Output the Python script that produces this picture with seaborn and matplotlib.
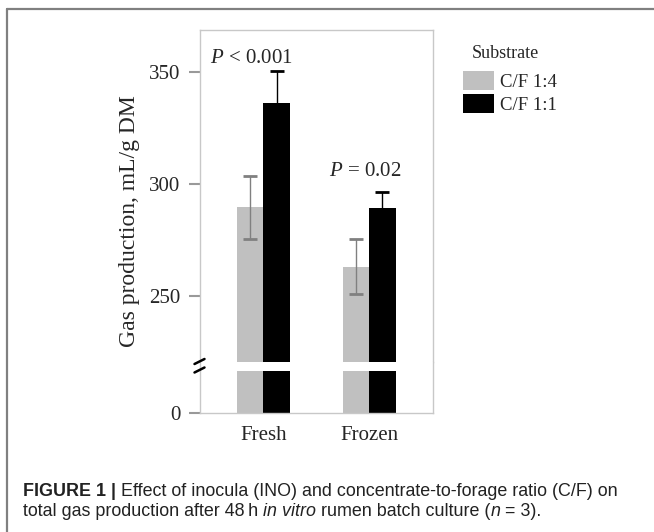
import matplotlib
matplotlib.use('Agg')
import matplotlib.pyplot as plt
import seaborn as sns
import pandas as pd
from matplotlib.patches import Rectangle
from matplotlib.lines import Line2D

# values
inocula = ['Fresh', 'Frozen']
substrates = ['C/F 1:4', 'C/F 1:1']
gas_cf14 = [289.4, 263.0]
gas_cf11 = [336.2, 289.3]
err_cf14 = [14.2, 12.3]
err_cf11 = [14.0, 7.0]
p_values = ['< 0.001', '= 0.02']
upper_ticks = [250, 300, 350]
lower_ticks = [0]

df = pd.DataFrame({
    'Inoculum': inocula * 2,
    'Substrate': [substrates[0]] * 2 + [substrates[1]] * 2,
    'Gas': gas_cf14 + gas_cf11,
    'Err': err_cf14 + err_cf11,
})

sns.set_style('white')
plt.rcParams['font.family'] = ['Liberation Serif', 'DejaVu Serif']
plt.rcParams['mathtext.fontset'] = 'custom'
plt.rcParams['mathtext.it'] = 'Liberation Serif:italic'
plt.rcParams['mathtext.rm'] = 'Liberation Serif'

W, H = 654, 532
fig = plt.figure(figsize=(W / 100, H / 100), dpi=100)


def fx(px):
    return px / W


def fy(py):
    return 1 - py / H


left, right = 200, 432.7
ax_top = fig.add_axes([fx(left), fy(361.7), fx(right) - fx(left), fy(30) - fy(361.7)])
ax_bot = fig.add_axes([fx(left), fy(413), fx(right) - fx(left), fy(361.7) - fy(413)])

palette = {'C/F 1:4': '#c0c0c0', 'C/F 1:1': '#000000'}
err_colors = {'C/F 1:4': '#808080', 'C/F 1:1': '#000000'}

for ax in (ax_top, ax_bot):
    sns.barplot(data=df, x='Inoculum', y='Gas', hue='Substrate', hue_order=substrates,
                order=inocula, palette=palette, width=0.5, errorbar=None,
                linewidth=0, ax=ax, legend=(ax is ax_top))
    ax.set_xlim(-0.6, 1.6)
    ax.set_xlabel('')
    ax.set_ylabel('')
    for s in ax.spines.values():
        s.set_color('#c8c8c8')
        s.set_linewidth(1)

# error bars on the upper panel
for cont, sub in zip(ax_top.containers, substrates):
    xs = [b.get_x() + b.get_width() / 2 for b in cont]
    sub_df = df[df['Substrate'] == sub]
    ax_top.errorbar(xs, sub_df['Gas'], yerr=sub_df['Err'], fmt='none',
                    ecolor=err_colors[sub], elinewidth=1, capsize=4.7, capthick=2, zorder=3)

ax_top.set_ylim(220.5, 368.6)
ax_top.set_yticks(upper_ticks)
ax_top.spines['bottom'].set_visible(False)
ax_top.tick_params(axis='y', left=True, length=8, width=1.5, color='#999999', pad=6, labelsize=15)
ax_top.tick_params(axis='x', bottom=False, labelbottom=False)

ax_bot.set_ylim(0, 30)
ax_bot.set_yticks(lower_ticks)
ax_bot.spines['top'].set_visible(False)
ax_bot.tick_params(axis='y', left=True, length=8, width=1.5, color='#999999', pad=6, labelsize=15)
ax_bot.tick_params(axis='x', bottom=False, length=0, pad=9, labelsize=15)

# white gap that breaks the bars
gap = 9.3 / 51.3
ax_bot.add_patch(Rectangle((0, 1 - gap), 1, gap, transform=ax_bot.transAxes,
                           facecolor='white', edgecolor='none', zorder=2.2))
for y0 in (364, 372.5):
    fig.add_artist(Line2D([fx(194.5), fx(204.5)], [fy(y0), fy(y0 - 5)],
                          transform=fig.transFigure, color='black', lw=1.8))

# P values above each group
p_dx = [-0.11, -0.04]
p_lift = [3.6, 7.3]
tops = [max(a + b, c + d) for a, b, c, d in zip(gas_cf14, err_cf14, gas_cf11, err_cf11)]
for i, pv in enumerate(p_values):
    ax_top.text(i + p_dx[i], tops[i] + p_lift[i], r'$\mathit{P}$ ' + pv,
                ha='center', va='baseline', fontsize=15)

fig.text(fx(130), fy(221), 'Gas production, mL/g DM', rotation=90,
         ha='center', va='center', fontsize=17)

# legend, with its title placed as plain text
handles, labels = ax_top.get_legend_handles_labels()
ax_top.get_legend().remove()
fig.text(fx(472), fy(57.5), 'Substrate', fontsize=13, va='baseline', ha='left')
fig.legend(handles, labels, loc='upper left',
           bbox_to_anchor=(fx(463), fy(71)), frameon=False, fontsize=13.5,
           handlelength=1.65, handleheight=1.15,
           handletextpad=0.32, labelspacing=0.2, borderpad=0, borderaxespad=0)

# caption
sans = ['Liberation Sans', 'DejaVu Sans']
cap_size = 12.9
lines = [
    [('FIGURE 1 |', 'normal', 'bold'),
     (' Effect of inocula (INO) and concentrate-to-forage ratio (C/F) on', 'normal', 'normal')],
    [('total gas production after 48\u2009h', 'normal', 'normal'),
     (' in vitro', 'italic', 'normal'),
     (' rumen batch culture (', 'normal', 'normal'),
     ('n', 'italic', 'normal'),
     (' = 3).', 'normal', 'normal')],
]
for row, base in zip(lines, (496, 516.5)):
    prev = None
    for txt, style, weight in row:
        if prev is None:
            prev = fig.text(fx(23), fy(base), txt, family=sans, style=style, weight=weight,
                            fontsize=cap_size, va='baseline', color='#222222')
        else:
            prev = ax_top.annotate(txt, xy=(1, 0), xycoords=prev, va='bottom', ha='left',
                                   family=sans, style=style, weight=weight,
                                   fontsize=cap_size, color='#222222', annotation_clip=False)

# outer frame lines (top and left)
fig.add_artist(Line2D([fx(7), 1], [fy(9), fy(9)], transform=fig.transFigure,
                      color='#808080', lw=1.6))
fig.add_artist(Line2D([fx(7), fx(7)], [fy(9), 0], transform=fig.transFigure,
                      color='#808080', lw=1.6))

fig.savefig('out.png', dpi=100)
